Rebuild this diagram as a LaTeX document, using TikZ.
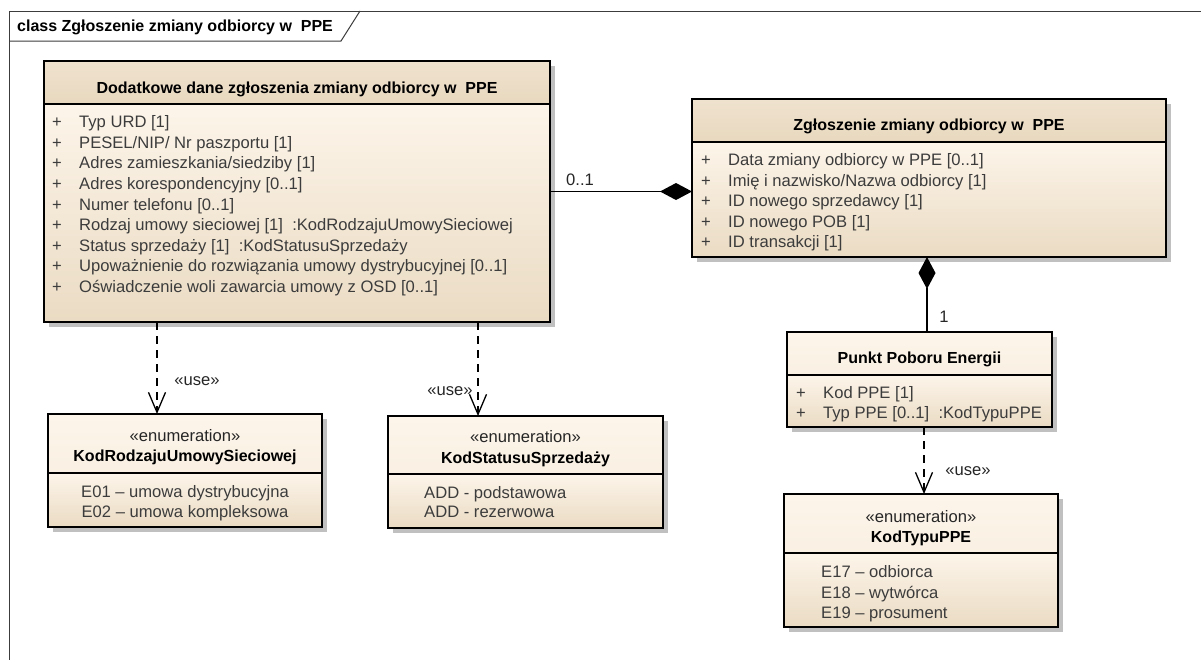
\documentclass[tikz,border=0pt]{standalone}
\usepackage{fontspec}
\setmainfont{Liberation Sans}
\usetikzlibrary{arrows.meta}
\definecolor{tanA}{RGB}{239,226,206}
\definecolor{tanB}{RGB}{232,216,191}
\definecolor{lightA}{RGB}{253,245,234}
\definecolor{lightB}{RGB}{234,219,195}
\definecolor{attrgray}{RGB}{60,60,60}
\definecolor{shadowgray}{RGB}{192,192,192}
\definecolor{framegray}{RGB}{60,60,60}
\newcommand\normsz{\fontsize{16}{19}\selectfont}
\newcommand\regsz{\fontsize{16.6}{19}\selectfont}
\newcommand\umlclassbox[8]{%
  \fill[boxshadow] (#2+5,#3+5) rectangle (#4+5,#5+5);
  \shade[#7] (#2,#3) rectangle (#4,#6);
  \shade[#8] (#2,#6) rectangle (#4,#5);
  \draw[sepline] (#2,#6) -- (#4,#6);
  \node[boxframe, anchor=north west, minimum width=#4-#2, minimum height=#5-#3] (#1) at (#2,#3) {};
}
\tikzset{
  headtan/.style={top color=tanA, bottom color=tanB},
  headlight/.style={top color=lightA, bottom color=lightA!75!tanA},
  bodyfill/.style={top color=lightA, bottom color=lightB},
  boxframe/.style={draw=black, line width=1.6pt, inner sep=0pt, outer sep=0pt},
  sepline/.style={draw=black, line width=1.2pt},
  boxshadow/.style={fill=shadowgray},
  txt/.style={inner sep=0pt, font=\regsz},
  attr/.style={txt, anchor=base west, text=attrgray},
  plus/.style={txt, anchor=base, text=attrgray},
  ctitle/.style={txt, anchor=base, font=\normsz\bfseries},
  stereo/.style={txt, anchor=base, text=black!85},
  lbl/.style={txt, anchor=base, text=black!85},
  comp/.style={draw=black, line width=1.3pt, -{Diamond[length=32pt,width=17pt]}},
  usedep/.style={draw=black, line width=1.3pt, dash pattern=on 8pt off 6pt, -{Straight Barb[length=20pt,width=17pt,line width=1.3pt]}},
}
\begin{document}
\begin{tikzpicture}[x=1pt,y=-1pt]
\useasboundingbox (0,0) rectangle (1201,659);
\fill[white] (0,0) rectangle (1201,659);
% frame
\draw[framegray, line width=1pt] (9.5,680) -- (9.5,11) -- (1220,11);
\draw[framegray, line width=1pt] (9.5,41) -- (341,41) -- (360,11);
\node[txt, anchor=base west, font=\normsz\bfseries] (ftitle) at (17,31.7) {class Zgłoszenie zmiany odbiorcy w~~PPE};

% main class
\umlclassbox{main}{44}{61}{550}{322}{104}{headtan}{bodyfill}
\node[ctitle] (mainT) at (297,93) {Dodatkowe dane zgłoszenia zmiany odbiorcy w~~PPE};
\foreach \t [count=\i] in {{Typ URD [1]},{PESEL/NIP/ Nr paszportu [1]},{Adres zamieszkania/siedziby [1]},{Adres korespondencyjny [0..1]},{Numer telefonu [0..1]},{Rodzaj umowy sieciowej [1]~~:KodRodzajuUmowySieciowej},{Status sprzedaży [1]~~:KodStatusuSprzedaży},{Upoważnienie do rozwiązania umowy dystrybucyjnej [0..1]},{Oświadczenie woli zawarcia umowy z OSD [0..1]}}{
  \node[plus] (mp\i) at (57,127.6+20.6*\i-20.6) {+};
  \node[attr] (ma\i) at (79,127.6+20.6*\i-20.6) {\t};
}

% Zgloszenie class
\umlclassbox{zg}{692}{99}{1166}{257}{142}{headtan}{bodyfill}
\node[ctitle] (zgT) at (929,130.7) {Zgłoszenie zmiany odbiorcy w~~PPE};
\foreach \t [count=\i] in {{Data zmiany odbiorcy w PPE [0..1]},{Imię i nazwisko/Nazwa odbiorcy [1]},{ID nowego sprzedawcy [1]},{ID nowego POB [1]},{ID transakcji [1]}}{
  \node[plus] (zp\i) at (706,165.6+20.5*\i-20.5) {+};
  \node[attr] (za\i) at (728,165.6+20.5*\i-20.5) {\t};
}

% Punkt Poboru Energii
\umlclassbox{ppe}{787}{332}{1052}{427}{375}{headlight}{bodyfill}
\node[ctitle] (ppeT) at (919.5,363.5) {Punkt Poboru Energii};
\node[plus] (pp1) at (801,398.6) {+};
\node[attr] (pa1) at (823,398.6) {Kod PPE [1]};
\node[plus] (pp2) at (801,418.6) {+};
\node[attr] (pa2) at (823,418.6) {Typ PPE [0..1]~~:KodTypuPPE};

% KodTypuPPE
\umlclassbox{enumT}{784}{494}{1058}{627}{553}{headlight}{bodyfill}
\node[stereo] (tS) at (921,522.5) {«enumeration»};
\node[ctitle] (tN) at (921,542.5) {KodTypuPPE};
\node[attr] (t1) at (821,577.5) {E17 – odbiorca};
\node[attr] (t2) at (821,598.2) {E18 – wytwórca};
\node[attr] (t3) at (821,618.5) {E19 – prosument};

% KodRodzajuUmowySieciowej
\umlclassbox{enumR}{48}{414}{322}{527}{473}{headlight}{bodyfill}
\node[stereo] (rS) at (185,441.5) {«enumeration»};
\node[ctitle] (rN) at (185,461.5) {KodRodzajuUmowySieciowej};
\node[txt, anchor=base, text=attrgray] (r1) at (185,497.5) {E01 – umowa dystrybucyjna};
\node[txt, anchor=base, text=attrgray] (r2) at (185,517.5) {E02 – umowa kompleksowa};

% KodStatusuSprzedazy
\umlclassbox{enumS}{388}{416}{663}{528}{474}{headlight}{bodyfill}
\node[stereo] (sS) at (525.5,442.5) {«enumeration»};
\node[ctitle] (sN) at (525.5,463.5) {KodStatusuSprzedaży};
\node[attr] (s1) at (424,498.5) {ADD - podstawowa};
\node[attr] (s2) at (424,517.5) {ADD - rezerwowa};

% connectors
\draw[comp] (main.east) -- (main.east -| zg.west);
\coordinate (cx) at (927,0);
\draw[comp] (ppe.north -| cx) -- (zg.south -| cx);
\coordinate (dx1) at (157,0);
\draw[usedep] (main.south -| dx1) -- (enumR.north -| dx1);
\coordinate (dx2) at (478,0);
\draw[usedep] (main.south -| dx2) -- (enumS.north -| dx2);
\coordinate (dx3) at (924,0);
\draw[usedep] (ppe.south -| dx3) -- (enumT.north -| dx3);

% labels
\node[lbl] (l01) at (580,185.7) {0..1};
\node[lbl] (l1) at (944,322.7) {1};
\node[lbl] (u1) at (197,385.7) {«use»};
\node[lbl] (u2) at (450,395.7) {«use»};
\node[lbl] (u3) at (968,475.7) {«use»};
\end{tikzpicture}
\end{document}
